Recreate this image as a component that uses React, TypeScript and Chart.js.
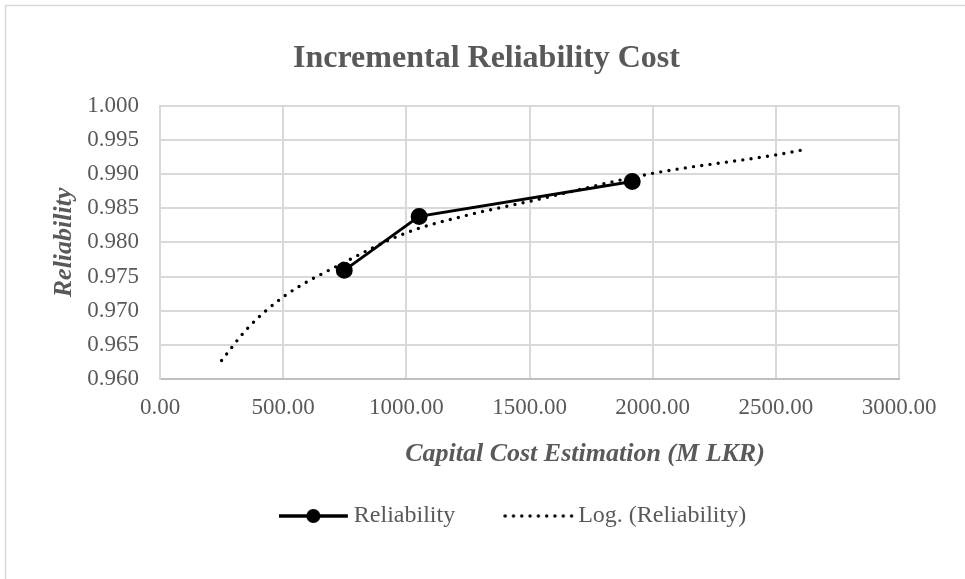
import React, { useEffect, useRef } from "react";
import { Chart, registerables } from "chart.js";

Chart.register(...registerables);

// ---- data ----
const costEstimates = [748, 1052, 1917];
const reliabilityValues = [0.9759, 0.9838, 0.9889];

const trendCost = [250, 350, 500, 750, 1000, 1250, 1500, 2000, 2500, 2620];
const trendReliability = [0.9627, 0.9672, 0.972, 0.9771, 0.9814, 0.984, 0.986, 0.9901, 0.9928, 0.9936];

const seriesNames = ["Reliability", "Log. (Reliability)"];
const chartTitle = "Incremental Reliability Cost";
const xAxisTitle = "Capital Cost Estimation (M LKR)";
const yAxisTitle = "Reliability";

const xMin = 0;
const xMax = 3000;
const xStep = 500;
const yMin = 0.96;
const yMax = 1.0;
const yStep = 0.005;

const FONT = "'Liberation Serif', 'Times New Roman', serif";
const TEXT = "#595959";
const GRID = "#d9d9d9";

function makeLegendImages() {
  const solid = document.createElement("canvas");
  solid.width = 97;
  solid.height = 16;
  const c1 = solid.getContext("2d")!;
  c1.strokeStyle = "#000";
  c1.fillStyle = "#000";
  c1.lineWidth = 3.5;
  c1.beginPath();
  c1.moveTo(0, 8);
  c1.lineTo(69, 8);
  c1.stroke();
  c1.beginPath();
  c1.arc(34.5, 8, 7, 0, Math.PI * 2);
  c1.fill();

  const dotted = document.createElement("canvas");
  dotted.width = 97;
  dotted.height = 6;
  const c2 = dotted.getContext("2d")!;
  c2.strokeStyle = "#000";
  c2.lineWidth = 3.4;
  c2.lineCap = "round";
  c2.setLineDash([0, 8.3]);
  c2.beginPath();
  c2.moveTo(2, 3);
  c2.lineTo(69, 3);
  c2.stroke();
  return [solid, dotted];
}

const framePlugin = {
  id: "frameAndAxisTitles",
  beforeDraw(chart: any) {
    const ctx = chart.ctx;
    ctx.save();
    ctx.fillStyle = "#ffffff";
    ctx.fillRect(0, 0, chart.width, chart.height);
    ctx.strokeStyle = GRID;
    ctx.lineWidth = 1.5;
    ctx.beginPath();
    ctx.moveTo(5.5, chart.height);
    ctx.lineTo(5.5, 5.5);
    ctx.lineTo(chart.width, 5.5);
    ctx.stroke();
    ctx.restore();
  },
  afterDraw(chart: any) {
    const ctx = chart.ctx;
    const area = chart.chartArea;
    ctx.save();
    ctx.fillStyle = TEXT;
    ctx.font = `italic bold 26px ${FONT}`;
    // x-axis title
    ctx.textAlign = "center";
    ctx.textBaseline = "alphabetic";
    ctx.fillText(xAxisTitle, 585, 461);
    // y-axis title
    ctx.translate(64, (area.top + area.bottom) / 2);
    ctx.rotate(-Math.PI / 2);
    ctx.textBaseline = "middle";
    ctx.fillText(yAxisTitle, 0, 0);
    ctx.restore();
  },
};

export default function App() {
  const canvasRef = useRef<HTMLCanvasElement | null>(null);

  useEffect(() => {
    if (!canvasRef.current) return;
    const legendImages = makeLegendImages();

    const chart = new Chart(canvasRef.current, {
      type: "scatter",
      data: {
        datasets: [
          {
            label: seriesNames[0],
            data: costEstimates.map((x, i) => ({ x, y: reliabilityValues[i] })),
            showLine: true,
            borderColor: "#000000",
            backgroundColor: "#000000",
            borderWidth: 3,
            pointRadius: 7,
            pointHoverRadius: 7,
            pointBackgroundColor: "#000000",
            pointBorderColor: "#000000",
          },
          {
            label: seriesNames[1],
            data: trendCost.map((x, i) => ({ x, y: trendReliability[i] })),
            showLine: true,
            borderColor: "#000000",
            backgroundColor: "#000000",
            borderWidth: 3.4,
            borderDash: [0, 8.3],
            borderCapStyle: "round",
            pointRadius: 0,
            pointHoverRadius: 0,
            cubicInterpolationMode: "monotone",
          },
        ],
      },
      options: {
        responsive: false,
        animation: false,
        devicePixelRatio: 1,
        layout: { padding: { left: 74, right: 66, top: 0, bottom: 41 } },
        font: { family: FONT },
        plugins: {
          tooltip: { enabled: false },
          title: {
            display: true,
            text: chartTitle,
            color: TEXT,
            font: { family: FONT, size: 32, weight: "bold" },
            padding: { top: 40, bottom: 27.3 },
          },
          legend: {
            display: true,
            position: "bottom",
            fullSize: false,
            labels: {
              usePointStyle: true,
              pointStyleWidth: 29,
              padding: 82,
              color: TEXT,
              font: { family: FONT, size: 24 },
              generateLabels: (ch: any) => {
                const items = Chart.defaults.plugins.legend.labels.generateLabels(ch);
                return items.map((it: any, i: number) => ({ ...it, pointStyle: legendImages[i] }));
              },
            },
          },
        },
        scales: {
          x: {
            type: "linear",
            min: xMin,
            max: xMax,
            ticks: {
              stepSize: xStep,
              padding: 15,
              color: TEXT,
              font: { family: FONT, size: 23 },
              callback: (v: any) => Number(v).toFixed(2),
            },
            grid: { color: GRID, lineWidth: 2, drawTicks: false },
            border: { color: "#bfbfbf", width: 2 },
            afterFit: (s: any) => {
              s.height = 43;
            },
          },
          y: {
            type: "linear",
            min: yMin,
            max: yMax,
            ticks: {
              stepSize: yStep,
              padding: 21,
              color: TEXT,
              font: { family: FONT, size: 23 },
              callback: (v: any) => Number(v).toFixed(3),
            },
            grid: { color: GRID, lineWidth: 2, drawTicks: false },
            border: { color: GRID, width: 2 },
            afterFit: (s: any) => {
              s.width = 86;
            },
          },
        },
      },
      plugins: [framePlugin],
    });

    return () => chart.destroy();
  }, []);

  return (
    <div style={{ position: "absolute", left: 0, top: 0, width: 965, height: 579, background: "#fff" }}>
      <canvas ref={canvasRef} width={965} height={579} style={{ display: "block" }} />
    </div>
  );
}
